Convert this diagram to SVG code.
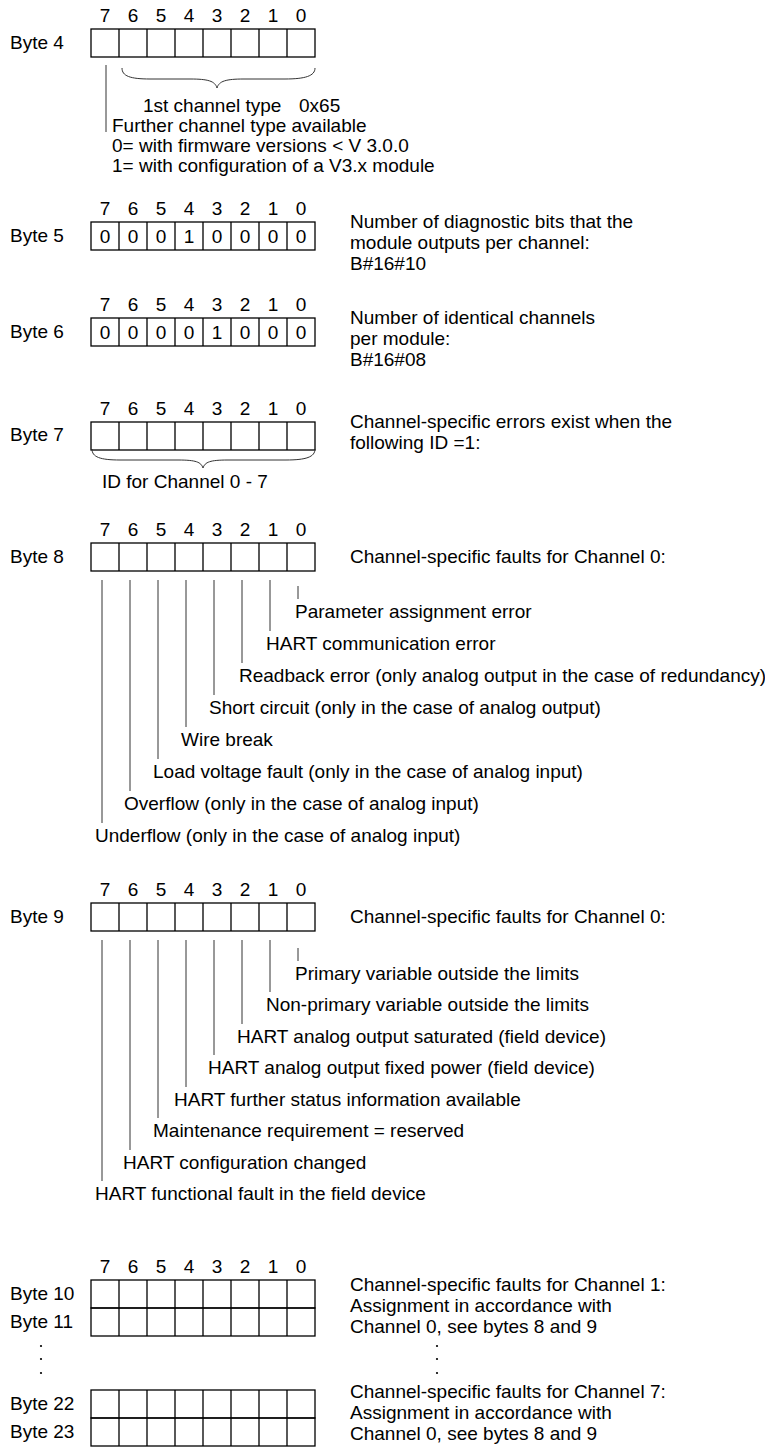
<svg xmlns="http://www.w3.org/2000/svg" xmlns:xlink="http://www.w3.org/1999/xlink" width="765" height="1448" viewBox="0 0 765 1448">
<style>
text{font-family:"Liberation Sans",Arial,sans-serif;font-size:19px;fill:#000}
.c{text-anchor:middle}
.box{fill:none;stroke:#000;stroke-width:1.3}
.ln{fill:none;stroke:#333;stroke-width:1}
.br{fill:none;stroke:#333;stroke-width:1}
</style>
<defs>
<g id="row">
<rect x="0" y="0" width="224" height="28" class="box"/>
<path class="box" d="M28,0v28M56,0v28M84,0v28M112,0v28M140,0v28M168,0v28M196,0v28"/>
</g>
<g id="bits">
<text class="c" x="14" y="0">7</text><text class="c" x="42" y="0">6</text><text class="c" x="70" y="0">5</text><text class="c" x="98" y="0">4</text><text class="c" x="126" y="0">3</text><text class="c" x="154" y="0">2</text><text class="c" x="182" y="0">1</text><text class="c" x="210" y="0">0</text>
</g>
</defs>
<rect width="765" height="1448" fill="#fff"/>

<g id="byte4">
<use href="#bits" x="91" y="22"/>
<use href="#row" x="91" y="29"/>
<text x="10" y="49">Byte 4</text>
<text x="143" y="112">1st channel type</text>
<text x="299" y="112">0x65</text>
<text x="112" y="132">Further channel type available</text>
<text x="112" y="152">0= with firmware versions &lt; V 3.0.0</text>
<text x="112" y="172">1= with configuration of a V3.x module</text>
</g>

<g id="byte5">
<use href="#bits" x="91" y="215"/>
<use href="#row" x="91" y="222"/>
<text x="10" y="242">Byte 5</text>
<text class="c" x="105" y="243">0</text><text class="c" x="133" y="243">0</text><text class="c" x="161" y="243">0</text><text class="c" x="189" y="243">1</text><text class="c" x="217" y="243">0</text><text class="c" x="245" y="243">0</text><text class="c" x="273" y="243">0</text><text class="c" x="301" y="243">0</text>
<text x="350" y="228">Number of diagnostic bits that the</text>
<text x="350" y="249">module outputs per channel:</text>
<text x="350" y="270">B#16#10</text>
</g>

<g id="byte6">
<use href="#bits" x="91" y="311"/>
<use href="#row" x="91" y="318"/>
<text x="10" y="338">Byte 6</text>
<text class="c" x="105" y="339">0</text><text class="c" x="133" y="339">0</text><text class="c" x="161" y="339">0</text><text class="c" x="189" y="339">0</text><text class="c" x="217" y="339">1</text><text class="c" x="245" y="339">0</text><text class="c" x="273" y="339">0</text><text class="c" x="301" y="339">0</text>
<text x="350" y="324">Number of identical channels</text>
<text x="350" y="345">per module:</text>
<text x="350" y="366">B#16#08</text>
</g>

<g id="byte7">
<use href="#bits" x="91" y="415"/>
<use href="#row" x="91" y="422"/>
<text x="10" y="441">Byte 7</text>
<text x="102" y="488">ID for Channel 0 - 7</text>
<text x="350" y="428">Channel-specific errors exist when the</text>
<text x="350" y="449">following ID =1:</text>
</g>

<g id="byte8">
<use href="#bits" x="91" y="536"/>
<use href="#row" x="91" y="543"/>
<text x="10" y="563">Byte 8</text>
<text x="350" y="563">Channel-specific faults for Channel 0:</text>
<text x="295" y="618">Parameter assignment error</text>
<text x="266" y="650">HART communication error</text>
<text x="239" y="682">Readback error (only analog output in the case of redundancy)</text>
<text x="209" y="714">Short circuit (only in the case of analog output)</text>
<text x="181" y="746">Wire break</text>
<text x="153" y="778">Load voltage fault (only in the case of analog input)</text>
<text x="124" y="810">Overflow (only in the case of analog input)</text>
<text x="95" y="842">Underflow (only in the case of analog input)</text>
</g>

<g id="byte9">
<use href="#bits" x="91" y="896"/>
<use href="#row" x="91" y="903"/>
<text x="10" y="923">Byte 9</text>
<text x="350" y="923">Channel-specific faults for Channel 0:</text>
<text x="295" y="980">Primary variable outside the limits</text>
<text x="266" y="1011">Non-primary variable outside the limits</text>
<text x="237" y="1043">HART analog output saturated (field device)</text>
<text x="208" y="1074">HART analog output fixed power (field device)</text>
<text x="174" y="1106">HART further status information available</text>
<text x="153" y="1137">Maintenance requirement = reserved</text>
<text x="123" y="1169">HART configuration changed</text>
<text x="95" y="1200">HART functional fault in the field device</text>
</g>

<g id="byte10-11">
<use href="#bits" x="91" y="1273"/>
<use href="#row" x="91" y="1280"/>
<use href="#row" x="91" y="1308"/>
<text x="10" y="1300">Byte 10</text>
<text x="10" y="1328">Byte 11</text>
<text x="350" y="1291">Channel-specific faults for Channel 1:</text>
<text x="350" y="1312">Assignment in accordance with</text>
<text x="350" y="1333">Channel 0, see bytes 8 and 9</text>
</g>

<g id="ellipsis">
<circle cx="41" cy="1346" r="1.1" fill="#000"/><circle cx="41" cy="1359" r="1.1" fill="#000"/><circle cx="41" cy="1373" r="1.1" fill="#000"/>
<circle cx="437" cy="1346" r="1.1" fill="#000"/><circle cx="437" cy="1359" r="1.1" fill="#000"/><circle cx="437" cy="1373" r="1.1" fill="#000"/>
</g>

<g id="byte22-23">
<use href="#row" x="91" y="1390"/>
<use href="#row" x="91" y="1418"/>
<text x="10" y="1410">Byte 22</text>
<text x="10" y="1438">Byte 23</text>
<text x="350" y="1398">Channel-specific faults for Channel 7:</text>
<text x="350" y="1419">Assignment in accordance with</text>
<text x="350" y="1440">Channel 0, see bytes 8 and 9</text>
</g>

<g id="connectors">
<path class="ln" d="M106,65V132"/>
<path class="br" d="M122,68C122,76 130,79 150,79L190,79C208,79 215,81 217,88C219,81 226,79 244,79L285,79C305,79 315,76 315,68"/>
<path class="br" d="M92,449C92,457 100,460 120,460L178,460C196,460 201,462 203,468C205,462 210,460 228,460L286,460C306,460 315,457 315,449"/>
<path class="ln" d="M298,586V599M270,580V631M242,580V663M214,580V695M186,580V727M158,580V759M130,580V791M102,580V823"/>
<path class="ln" d="M298,948V961M270,940V992M242,940V1024M214,940V1055M186,940V1087M158,940V1118M130,940V1150M102,940V1181"/>
</g>
</svg>
